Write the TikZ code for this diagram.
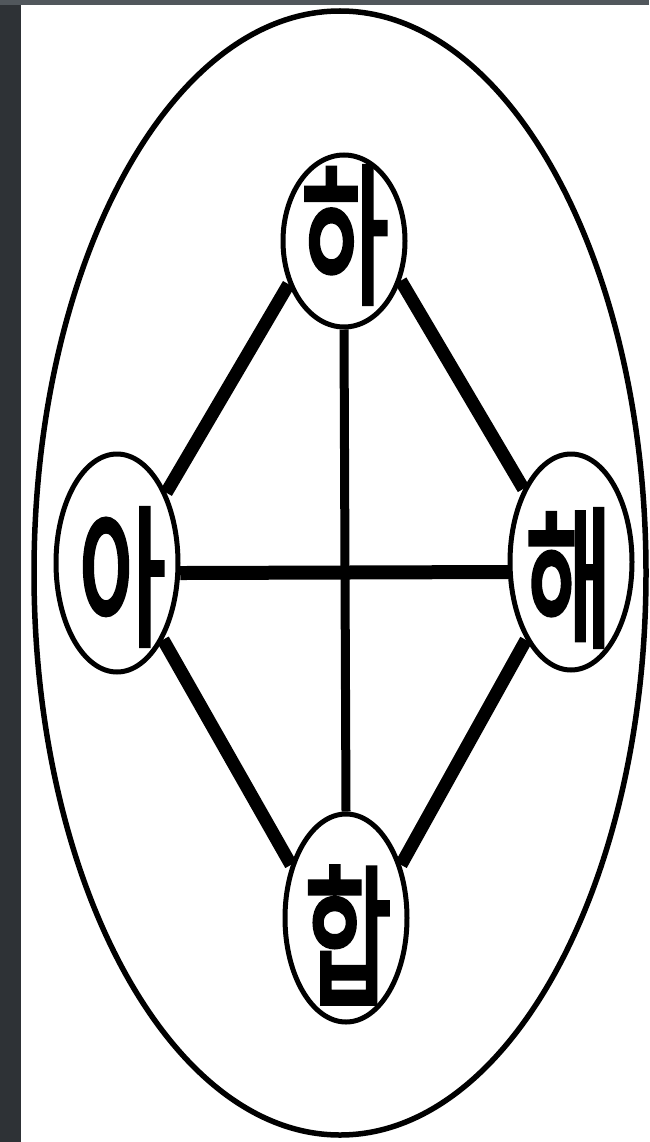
\documentclass[tikz,border=0pt]{standalone}
\usepackage{fontspec}
\newfontfamily\kr{Noto Sans CJK KR}[FakeBold=4]
\usetikzlibrary{shapes.geometric}
\definecolor{frameL}{HTML}{2E3236}
\definecolor{frameT}{HTML}{51575C}
\tikzset{
  ring/.style={draw=black, line width=5pt, ellipse, fill=white, inner sep=0pt, minimum width=122pt, minimum height=#1},
  hangul/.style={inner sep=0pt, font=\kr\fontsize{94}{94}\selectfont},
  thick line/.style={line width=13pt, line cap=butt},
  mid line/.style={line width=9pt}
}
\newcommand{\tall}[1]{\scalebox{1}[1.6]{#1}}
\begin{document}
\begin{tikzpicture}[x=1pt,y=-1pt]
\useasboundingbox (0,0) rectangle (649,1142);
\fill[white] (0,0) rectangle (649,1142);
\fill[frameL] (0,0) rectangle (21,1142);
\fill[frameT] (0,0) rectangle (649,5);
\node[draw=black, line width=5.5pt, ellipse, inner sep=0pt, minimum width=612pt, minimum height=1124pt] (outer) at (340,573) {};
\node[ring=172pt] (ha) at (344,241) {};
\node[ring=218pt] (a) at (117,563) {};
\node[ring=216pt] (hae) at (571,562) {};
\node[ring=208pt] (hap) at (346,918) {};
\node[hangul] (tha) at (345,235) {\tall{하}};
\node[hangul] (ta) at (122,577) {\tall{아}};
\node[hangul] (thae) at (569,578) {\tall{해}};
\node[hangul] (thap) at (348,935) {\tall{합}};
\draw[thick line] (ha.218) -- (a.55);
\draw[thick line] (ha.325) -- (hae.123);
\draw[thick line] (a.301) -- (hap.136);
\draw[thick line] (hap.44) -- (hae.240);
\draw[thick line, line width=14pt] (a.-9) -- (hae.189);
\draw[mid line] (ha.south) -- (hap.north);
\end{tikzpicture}
\end{document}
